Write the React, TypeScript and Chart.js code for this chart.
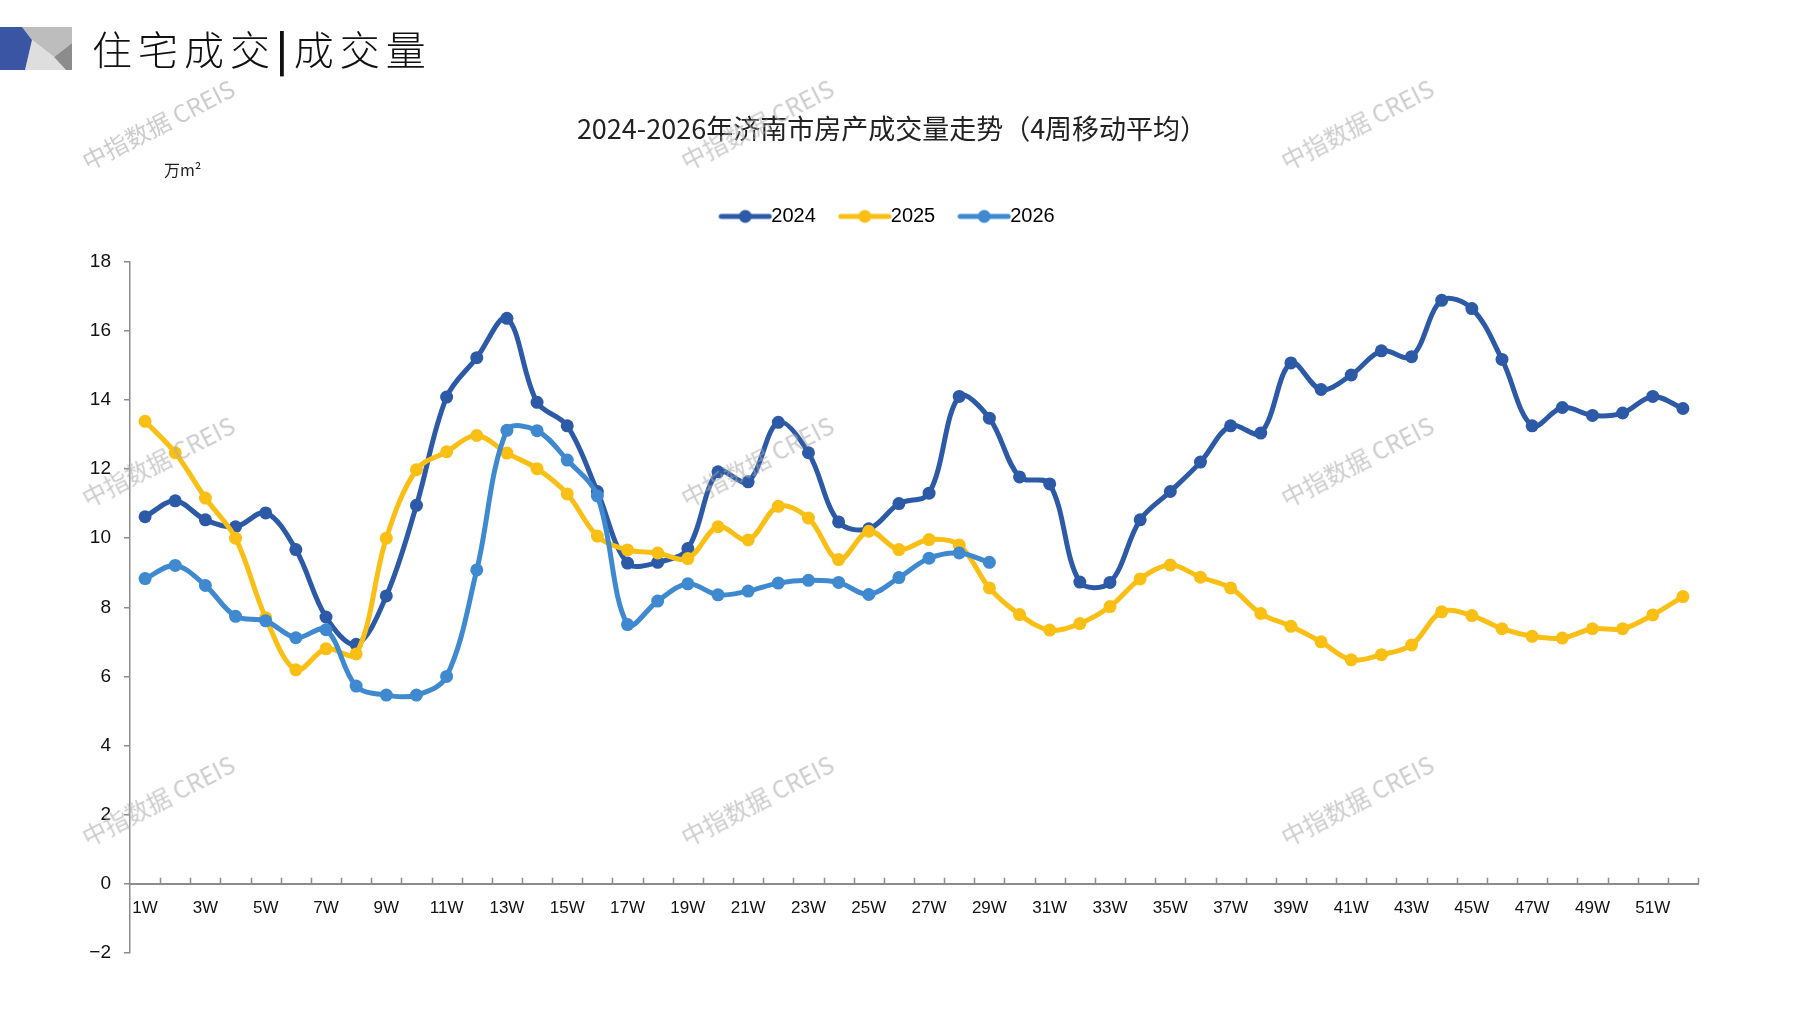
import { useEffect, useRef } from "react";
import { Chart, registerables } from "chart.js";

Chart.register(...registerables);

const weeks = Array.from({ length: 52 }, (_, i) => `${i + 1}W`);

const years = ["2024", "2025", "2026"];

const sales2024 = [
  10.62, 11.08, 10.53, 10.33, 10.73, 9.67, 7.72, 6.93, 8.33, 10.95,
  14.08, 15.22, 16.36, 13.93, 13.25, 11.35, 9.28, 9.3, 9.7, 11.92,
  11.63, 13.35, 12.47, 10.47, 10.27, 11.0, 11.3, 14.1, 13.47, 11.77,
  11.57, 8.73, 8.72, 10.53, 11.35, 12.2, 13.25, 13.04, 15.07, 14.3,
  14.72, 15.42, 15.25, 16.88, 16.64, 15.17, 13.25, 13.78, 13.55, 13.62,
  14.1, 13.75,
];

const sales2025 = [
  13.38, 12.47, 11.16, 10.0, 7.7, 6.19, 6.8, 6.65, 10.0, 11.98,
  12.5, 12.97, 12.46, 12.01, 11.28, 10.06, 9.66, 9.57, 9.41, 10.33,
  9.95, 10.92, 10.58, 9.38, 10.2, 9.67, 9.96, 9.8, 8.56, 7.79,
  7.34, 7.53, 8.02, 8.82, 9.22, 8.87, 8.56, 7.82, 7.45, 7.0,
  6.48, 6.63, 6.91, 7.87, 7.76, 7.38, 7.16, 7.11, 7.38, 7.38,
  7.78, 8.31,
];

const sales2026 = [
  8.83, 9.21, 8.63, 7.74, 7.61, 7.12, 7.35, 5.72, 5.46, 5.46,
  6.0, 9.08, 13.12, 13.11, 12.26, 11.22, 7.5, 8.18, 8.68, 8.36,
  8.47, 8.7, 8.78, 8.72, 8.37, 8.86, 9.42, 9.57, 9.3,
];

const yTicks = [-2, 0, 2, 4, 6, 8, 10, 12, 14, 16, 18];

const colors = ["#2C5AA6", "#F9BF15", "#3E89CF"];

const latin = '"Liberation Sans", Arial, sans-serif';
const cjk = '"Noto Sans CJK SC", "Noto Sans", sans-serif';

const watermarks = [
  [158, 124], [757, 124], [1357, 124],
  [158, 461], [757, 461], [1357, 461],
  [158, 800], [757, 800], [1357, 800],
];

// legend swatch: line with a dot in the middle
function makeSwatch(color: string) {
  const c = document.createElement("canvas");
  c.width = 54;
  c.height = 16;
  const ctx = c.getContext("2d")!;
  ctx.strokeStyle = color;
  ctx.lineWidth = 5;
  ctx.lineCap = "round";
  ctx.beginPath();
  ctx.moveTo(3, 8);
  ctx.lineTo(51, 8);
  ctx.stroke();
  ctx.fillStyle = color;
  ctx.beginPath();
  ctx.arc(27, 8, 6.5, 0, Math.PI * 2);
  ctx.fill();
  return c;
}

// small tick marks pointing up from the x axis, at category borders
const xTickMarks = {
  id: "xTickMarks",
  afterDraw(chart: any) {
    const x = chart.scales.x;
    const y = chart.scales.y;
    const y0 = y.getPixelForValue(0);
    const step = x.getPixelForValue(1) - x.getPixelForValue(0);
    const ctx = chart.ctx;
    ctx.save();
    ctx.strokeStyle = "#8c8c8c";
    ctx.lineWidth = 1.5;
    ctx.beginPath();
    for (let i = 1; i <= weeks.length; i++) {
      const px = Math.round(x.getPixelForValue(i - 1) + step / 2) + 0.5;
      ctx.moveTo(px, y0);
      ctx.lineTo(px, y0 - 6);
    }
    ctx.stroke();
    ctx.restore();
  },
};

function SalesChart() {
  const canvasRef = useRef<HTMLCanvasElement | null>(null);
  const chartRef = useRef<Chart | null>(null);

  useEffect(() => {
    if (!canvasRef.current) return;
    const series = [sales2024, sales2025, sales2026];
    const swatches = colors.map((c) => makeSwatch(c));

    chartRef.current = new Chart(canvasRef.current, {
      type: "line",
      data: {
        labels: weeks,
        datasets: years.map((label, i) => ({
          label,
          data: series[i],
          borderColor: colors[i],
          backgroundColor: colors[i],
          borderWidth: 5,
          pointRadius: 6.5,
          pointBorderWidth: 0,
          pointBackgroundColor: colors[i],
          tension: 0.35,
          order: 3 - i,
        })),
      },
      options: {
        responsive: false,
        animation: false,
        layout: { padding: { top: 113, left: 86, right: 99, bottom: 57 } },
        plugins: {
          title: {
            display: true,
            text: "2024-2026年济南市房产成交量走势（4周移动平均）",
            color: "#222",
            font: { family: cjk, size: 27, weight: "normal" },
            padding: { top: 0, bottom: 28 },
          },
          subtitle: {
            display: true,
            text: "",
            weight: 500,
            font: { size: 1 },
            padding: { top: 0, bottom: 24 },
          },
          legend: {
            position: "top",
            labels: {
              usePointStyle: true,
              pointStyleWidth: 32,
              padding: 33,
              color: "#222",
              font: { family: latin, size: 20 },
              generateLabels: () =>
                years.map((y, i) => ({
                  text: y,
                  pointStyle: swatches[i],
                  fillStyle: colors[i],
                  strokeStyle: colors[i],
                  lineWidth: 0,
                  datasetIndex: i,
                  hidden: false,
                })),
            },
          },
          tooltip: { enabled: false },
        },
        scales: {
          x: {
            type: "category",
            position: { y: 0 },
            offset: true,
            grid: { display: false, drawTicks: false },
            border: { display: true, color: "#8c8c8c", width: 2 },
            ticks: {
              autoSkip: false,
              maxRotation: 0,
              padding: 14,
              color: "#111",
              font: { family: latin, size: 17 },
              callback: (_v: any, i: number) => (i % 2 === 0 ? weeks[i] : ""),
            },
          },
          y: {
            min: yTicks[0],
            max: yTicks[yTicks.length - 1],
            afterBuildTicks: (axis: any) => {
              axis.ticks = yTicks.map((v) => ({ value: v }));
            },
            afterFit: (axis: any) => {
              axis.width = 44;
            },
            grid: {
              display: true,
              drawOnChartArea: false,
              drawTicks: true,
              tickLength: 6,
              color: "#8c8c8c",
              lineWidth: 1.5,
            },
            border: { display: true, color: "#8c8c8c", width: 1.5 },
            ticks: {
              padding: 13,
              color: "#111",
              font: { family: latin, size: 19 },
              callback: (v: any) => (Number(v) < 0 ? "\u2212" + Math.abs(Number(v)) : String(v)),
            },
          },
        },
      },
      plugins: [xTickMarks],
    });

    return () => {
      if (chartRef.current) {
        chartRef.current.destroy();
        chartRef.current = null;
      }
    };
  }, []);

  return <canvas ref={canvasRef} width={1797} height={1010} style={{ position: "absolute", left: 0, top: 0 }} />;
}

export default function App() {
  return (
    <div
      style={{
        position: "fixed",
        left: 0,
        top: 0,
        width: 1797,
        height: 1010,
        background: "#fff",
        overflow: "hidden",
      }}
    >
      <SalesChart />
      <svg width={72} height={43} style={{ position: "absolute", left: 0, top: 27 }}>
        <polygon points="22,0 72,0 72,16 54,30 32,13" fill="#bdbdbd" />
        <polygon points="32,13 54,30 66,43 25,43" fill="#dedede" />
        <polygon points="72,16 54,30 66,43 72,43" fill="#8c8c8c" />
        <polygon points="0,0 22,0 32,13 25,43 0,43" fill="#3a55a4" />
      </svg>
      <div
        style={{
          position: "absolute",
          left: 92,
          top: 22,
          fontFamily: cjk,
          fontWeight: 300,
          fontSize: 40,
          letterSpacing: 6,
          color: "#111",
          lineHeight: "52px",
          whiteSpace: "nowrap",
        }}
      >
        住宅成交<span style={{ fontWeight: 700 }}>|</span>成交量
      </div>
      <div
        style={{
          position: "absolute",
          left: 164,
          top: 157,
          fontFamily: cjk,
          fontSize: 16,
          color: "#222",
          whiteSpace: "nowrap",
        }}
      >
        万m²
      </div>
      {watermarks.map(([x, y], i) => (
        <div
          key={i}
          style={{
            position: "absolute",
            left: x - 110,
            top: y - 16,
            width: 220,
            textAlign: "center",
            fontFamily: cjk,
            fontSize: 24,
            lineHeight: "32px",
            color: "rgba(170,170,170,0.6)",
            transform: "rotate(-27deg)",
            whiteSpace: "nowrap",
            pointerEvents: "none",
          }}
        >
          中指数据 CREIS
        </div>
      ))}
    </div>
  );
}
